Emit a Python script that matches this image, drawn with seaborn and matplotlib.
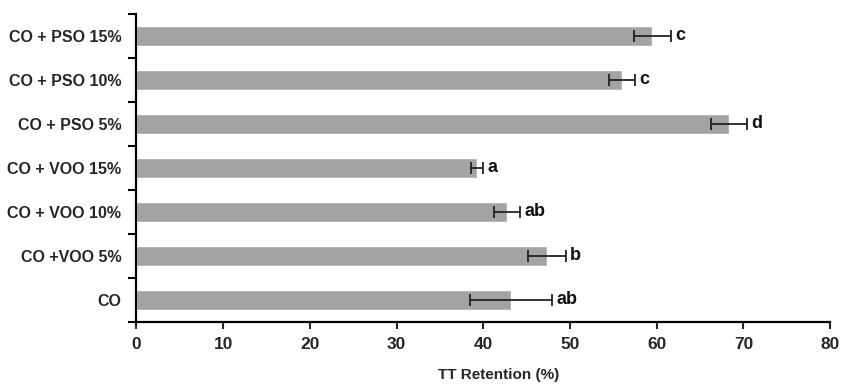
import numpy as np
import pandas as pd
import seaborn as sns
import matplotlib.pyplot as plt

groups = ['CO + PSO 15%', 'CO + PSO 10%', 'CO + PSO 5%', 'CO + VOO 15%',
          'CO + VOO 10%', 'CO +VOO 5%', 'CO']
retention = [59.5, 56.0, 68.3, 39.3, 42.7, 47.3, 43.2]
sem = [2.1, 1.5, 2.1, 0.7, 1.5, 2.2, 4.7]
letters = ['c', 'c', 'd', 'a', 'ab', 'b', 'ab']

data = pd.DataFrame({'group': groups, 'retention': retention})

sns.set_style('ticks')
plt.rcParams['font.family'] = ['Liberation Sans', 'DejaVu Sans']
plt.rcParams['font.weight'] = 'bold'

fig = plt.figure(figsize=(8.42, 3.86), dpi=100)
ax = fig.add_axes([0.162, 0.166, 0.824, 0.798])

sns.barplot(data=data, x='retention', y='group', order=groups, color='#a3a3a3',
            saturation=1, width=0.45, errorbar=None, ax=ax)

pos = np.arange(len(groups))
ax.errorbar(retention, pos, xerr=sem, fmt='none', ecolor='#222222',
            elinewidth=1.3, capsize=4, capthick=1.3)
for p, v, s, lab in zip(pos, retention, sem, letters):
    ax.text(v + s + 0.5, p, lab, va='center', ha='left', fontsize=13,
            fontweight='bold', color='#111111')

ax.set_xlim(0, 80)
ax.set_ylim(len(groups) - 0.5, -0.5)
ax.set_xticks(range(0, 81, 10))
ax.set_yticks(pos, groups)
ax.set_yticks(np.arange(-0.5, len(groups), 1), minor=True)
ax.tick_params(axis='y', which='major', length=0, pad=11, labelsize=11.5)
ax.tick_params(axis='y', which='minor', length=6, width=1.5, color='black')
ax.tick_params(axis='x', length=5, width=1.5, labelsize=12.5, pad=6)
for lbl in ax.get_xticklabels() + ax.get_yticklabels():
    lbl.set_fontweight('bold')

ax.set_xlabel('TT Retention (%)', fontsize=11, fontweight='bold')
ax.xaxis.set_label_coords(0.522, -0.15)
ax.set_ylabel('')
sns.despine(ax=ax)
for side in ['left', 'bottom']:
    ax.spines[side].set_linewidth(1.6)
    ax.spines[side].set_color('black')

fig.savefig('out.png', dpi=100)
